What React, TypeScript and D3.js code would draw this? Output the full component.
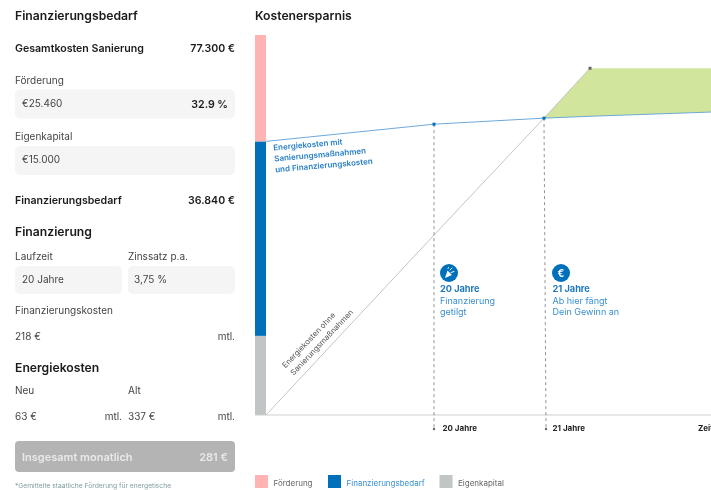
import React from "react";
import * as d3 from "d3";

// chart data (euro, cumulated)
const years = [0, 20, 21, 22, 24];
const withRenovation = [51840, 55100, 56250, 56600, 57400];
const withoutYears = [0, 20, 21, 22];
const withoutRenovation = [0, 34100, 56250, 65700];
const savingsTop = [56250, 65700, 65700];
const savingsYears = [21, 22, 24];
const savingsBottom = [56250, 56600, 57400];

const stackNames = ["Eigenkapital", "Finanzierungsbedarf", "Förderung"];
const stackValues = [15000, 36840, 25460];
const stackColors = ["#c1c5c5", "#0070ba", "#ffb3b3"];

const markerYears = [20, 21];
const markerValues = [55100, 56250];
const tickLabels = ["20 Jahre", "21 Jahre"];

const legendNames = ["Förderung", "Finanzierungsbedarf", "Eigenkapital"];

const font = "Inter, 'Noto Sans', sans-serif";

const App: React.FC = () => {
    const x = d3.scaleLinear().domain([0, 20, 21, 22, 24]).range([266, 434, 544, 590, 711]);
    const y = d3.scaleLinear().domain([0, 72000]).range([415, 35]);

    const line = d3.line<[number, number]>().x((d) => x(d[0])).y((d) => y(d[1]));
    const blue = line(years.map((t, i) => [t, withRenovation[i]]));
    const grey = line(withoutYears.map((t, i) => [t, withoutRenovation[i]]));
    const area = d3
        .area<number>()
        .x((t) => x(t))
        .y0((_, i) => y(savingsBottom[i]))
        .y1((_, i) => y(savingsTop[i]))(savingsYears);

    let acc = 0;
    const stack = stackValues.map((v, i) => {
        const from = acc;
        acc += v;
        return { name: stackNames[i], from, to: acc, color: stackColors[i] };
    });

    return (
        <svg
            width={711}
            height={490}
            style={{ position: "absolute", left: 0, top: 0, display: "block", background: "#fff", fontFamily: font }}
        >
            <defs>
                <clipPath id="plot">
                    <rect x={255} y={35} width={456} height={380} />
                </clipPath>
                <filter id="soft" x="0" y="0" width="100%" height="100%">
                    <feGaussianBlur stdDeviation="0.3" />
                </filter>
            </defs>

            <g filter="url(#soft)">
                {/* left panel */}
                <g fill="#f5f5f5">
                    <rect x={15} y={89.5} width={220} height={29} rx={5} />
                    <rect x={15} y={146} width={220} height={29} rx={5} />
                    <rect x={15} y={266} width={107} height={28} rx={5} />
                    <rect x={128} y={266} width={107} height={28} rx={5} />
                </g>
                <rect x={15} y={441} width={220} height={31} rx={4} fill="#b4b4b4" />

                <g fontSize={12.2} fontWeight={600} fill="#1a1a1a">
                    <text x={15} y={19.5}>Finanzierungsbedarf</text>
                    <text x={15} y={235.5}>Finanzierung</text>
                    <text x={15} y={372}>Energiekosten</text>
                    <text x={255} y={19.5}>Kostenersparnis</text>
                </g>
                <g fontSize={10.6} fontWeight={600} fill="#1a1a1a">
                    <text x={15} y={51.5}>Gesamtkosten Sanierung</text>
                    <text x={235} y={51.5} textAnchor="end">77.300 €</text>
                    <text x={15} y={203.5}>Finanzierungsbedarf</text>
                    <text x={235} y={203.5} textAnchor="end">36.840 €</text>
                    <text x={228} y={107.5} textAnchor="end">32.9 %</text>
                </g>
                <g fontSize={10} fill="#444">
                    <text x={15} y={83.5}>Förderung</text>
                    <text x={22} y={106.5}>€25.460</text>
                    <text x={15} y={139.5}>Eigenkapital</text>
                    <text x={22} y={163}>€15.000</text>
                    <text x={15} y={259.5}>Laufzeit</text>
                    <text x={128} y={259.5}>Zinssatz p.a.</text>
                    <text x={22} y={283}>20 Jahre</text>
                    <text x={134} y={283}>3,75 %</text>
                    <text x={15} y={314}>Finanzierungskosten</text>
                    <text x={15} y={340}>218 €</text>
                    <text x={235} y={340} textAnchor="end">mtl.</text>
                    <text x={15} y={394}>Neu</text>
                    <text x={128} y={394}>Alt</text>
                    <text x={15} y={420}>63 €</text>
                    <text x={122} y={420} textAnchor="end">mtl.</text>
                    <text x={128} y={420}>337 €</text>
                    <text x={235} y={420} textAnchor="end">mtl.</text>
                </g>
                <g fontSize={11} fontWeight={600} fill="#e9e9e9">
                    <text x={22} y={461}>Insgesamt monatlich</text>
                    <text x={228} y={461} textAnchor="end">281 €</text>
                </g>
                <text x={15} y={488} fontSize={6.7} fill="#7f9c9c">*Gemittelte staatliche Förderung für energetische</text>

                {/* chart */}
                <g clipPath="url(#plot)">
                    {stack.map((s) => (
                        <rect
                            key={s.name}
                            x={255}
                            width={11}
                            y={y(s.to)}
                            height={y(s.from) - y(s.to)}
                            fill={s.color}
                        />
                    ))}
                    <path d={area ?? ""} fill="#d1e69c" />
                    <path d={grey ?? ""} fill="none" stroke="#bdbdbd" strokeWidth={0.9} />
                    <path d={blue ?? ""} fill="none" stroke="#6ea8d8" strokeWidth={1} />
                </g>
                <line x1={255} x2={711} y1={415} y2={415} stroke="#cfcfcf" strokeWidth={1.2} />

                {markerYears.map((t, i) => (
                    <g key={t}>
                        <line
                            x1={x(t)}
                            x2={x(t) + i * 2}
                            y1={y(markerValues[i])}
                            y2={428}
                            stroke="#777"
                            strokeWidth={0.8}
                            strokeDasharray="3 3"
                        />
                        <circle cx={x(t) + i * 2} cy={429} r={1.2} fill="#666" />
                        <rect
                            x={x(t) - 1.5}
                            y={y(markerValues[i]) - 1.5}
                            width={3}
                            height={3}
                            fill="#0070ba"
                        />
                        <text x={x(t) + 8.5} y={431} fontSize={8} fontWeight={700} fill="#222">
                            {tickLabels[i]}
                        </text>
                    </g>
                ))}
                <text x={698} y={431} fontSize={8} fontWeight={700} fill="#222">Zeit</text>
                <rect x={x(22) - 1.5} y={y(65700) - 1.5} width={3} height={3} fill="#666" />

                {/* line labels */}
                <g fontSize={8} fontWeight={600} fill="#2a80c6" transform="translate(273.5,150.5) rotate(-5)">
                    <text>Energiekosten mit</text>
                    <text y={11}>Sanierungsmaßnahmen</text>
                    <text y={22}>und Finanzierungskosten</text>
                </g>
                <g fontSize={7.8} fill="#555" transform="translate(285.5,368.5) rotate(-46.5)">
                    <text>Energiekosten ohne</text>
                    <text x={0.5} y={11}>Sanierungsmaßnahmen</text>
                </g>

                {/* annotation 20 */}
                <circle cx={449} cy={273} r={9} fill="#0070ba" />
                <path d="M445 278 L447.5 270.5 L452 275 Z" fill="#fff" />
                <g stroke="#fff" strokeWidth={1} strokeLinecap="round">
                    <line x1={450} y1={270} x2={452} y2={268} />
                    <line x1={451} y1={272.5} x2={454} y2={271.5} />
                    <line x1={448} y1={268.5} x2={448.5} y2={267.5} />
                </g>
                <text x={440} y={292} fontSize={9.2} fontWeight={700} fill="#1f78bf">20 Jahre</text>
                <g fontSize={9} fill="#3a8fd0">
                    <text x={440} y={303.5}>Finanzierung</text>
                    <text x={440} y={315}>getilgt</text>
                </g>

                {/* annotation 21 */}
                <circle cx={561} cy={273} r={9} fill="#0070ba" />
                <text x={561} y={276.5} fontSize={10} fontWeight={700} fill="#fff" textAnchor="middle">€</text>
                <text x={552.5} y={292} fontSize={9.2} fontWeight={700} fill="#1f78bf">21 Jahre</text>
                <g fontSize={9} fill="#3a8fd0">
                    <text x={552.5} y={303.5}>Ab hier fängt</text>
                    <text x={552.5} y={315}>Dein Gewinn an</text>
                </g>

                {/* legend */}
                <rect x={255} y={475} width={13} height={13} fill="#ffb3b3" />
                <text x={273.5} y={485.5} fontSize={8} fill="#666">{legendNames[0]}</text>
                <rect x={328} y={475} width={13} height={13} fill="#0070ba" />
                <text x={346.5} y={485.5} fontSize={8} fill="#3a8fd0">{legendNames[1]}</text>
                <rect x={439.5} y={475} width={13} height={13} fill="#c1c5c5" />
                <text x={458} y={485.5} fontSize={8} fill="#666">{legendNames[2]}</text>
            </g>
        </svg>
    );
};

export default App;
